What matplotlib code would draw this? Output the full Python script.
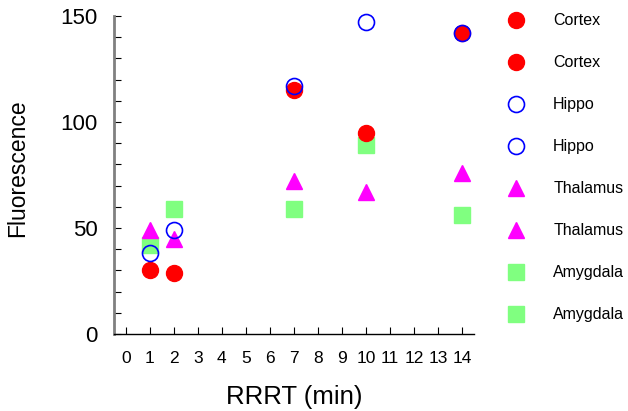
import matplotlib
matplotlib.use("Agg")
import matplotlib.pyplot as plt
from matplotlib.lines import Line2D

plt.rcParams['font.family'] = ['Liberation Sans', 'DejaVu Sans']

# data
times = [1, 2, 7, 10, 14]
cortex = [30, 29, 115, 95, 142]
hippo = [38, 49, 117, 147, 142]
thalamus = [49, 45, 72, 67, 76]
amygdala = [42, 59, 59, 89, 56]
xticks = list(range(0, 15))
yticks = [0, 50, 100, 150]

ms = 11.5
styles = [
    ('Cortex', cortex, dict(marker='o', color='#ff0000', mec='#ff0000')),
    ('Hippo', hippo, dict(marker='o', color='none', mfc='none', mec='#0000ff', mew=1.2)),
    ('Thalamus', thalamus, dict(marker='^', color='#ff00ff', mec='#ff00ff')),
    ('Amygdala', amygdala, dict(marker='s', color='#80ff80', mec='#80ff80')),
]

fig = plt.figure(figsize=(6.28, 4.11), dpi=100)
ax = fig.add_axes([0.1815, 0.1873, 0.7545 - 0.1815, 0.961 - 0.1873])

# draw amygdala/thalamus first so cortex & hippo sit on top like the reference
order = [3, 2, 0, 1]
for i in order:
    name, vals, st = styles[i]
    ax.plot(times, vals, ls='none', ms=ms, zorder=3, clip_on=False, **st)

ax.set_xlim(-0.5, 14.5)
ax.set_ylim(0, 150)
ax.set_xticks(xticks)
ax.set_xticklabels([str(t) for t in xticks], fontsize=12.5)
ax.set_yticks(yticks)
ax.set_yticks(range(0, 151, 10), minor=True)
ax.set_yticklabels([str(t) for t in yticks], fontsize=16)
ax.tick_params(axis='x', direction='in', length=5, width=0.8, pad=12)
ax.tick_params(axis='y', which='both', direction='in', length=5, width=0.8, pad=12)
ax.spines['top'].set_visible(False)
ax.spines['right'].set_visible(False)
ax.spines['left'].set_color('#808080')
ax.spines['left'].set_linewidth(2)
ax.spines['bottom'].set_linewidth(1)
ax.set_xlabel('RRRT (min)', fontsize=18.5, labelpad=14)
ax.set_ylabel('Fluorescence', fontsize=16.5, labelpad=22)
ax.yaxis.set_label_coords(-0.237, 0.52)

handles = []
labels = []
for name, vals, st in styles:
    h = Line2D([], [], ls='none', ms=ms, **st)
    handles += [h, h]
    labels += [name, name]
fig.legend(handles, labels, loc='upper left', bbox_to_anchor=(0.788, 0.995),
           frameon=False, fontsize=11.5, labelspacing=1.69, handletextpad=1.75,
           handlelength=1.2, numpoints=1, borderpad=0.2)

fig.savefig('out.png', dpi=100)
